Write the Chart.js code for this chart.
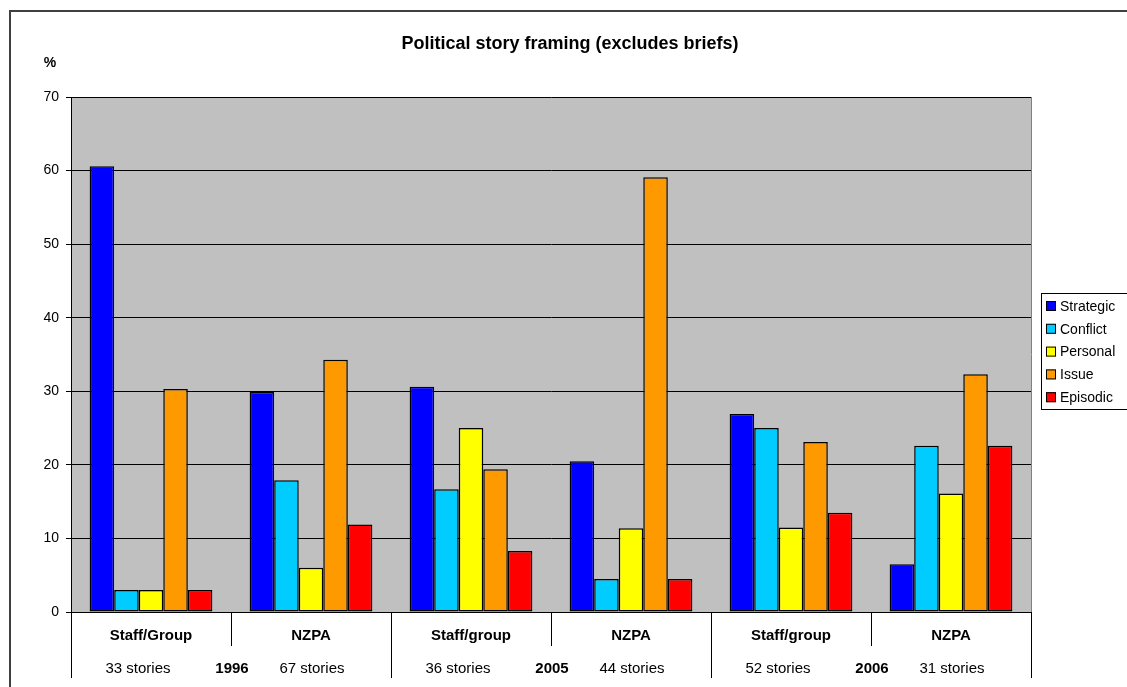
<!DOCTYPE html>
<html>
<head>
<meta charset="utf-8">
<script src="https://cdn.jsdelivr.net/npm/chart.js@4/dist/chart.umd.min.js"></script>
<style>
  html, body { margin: 0; padding: 0; background: #fff; }
  #wrap { width: 1127px; height: 687px; position: relative; }
</style>
</head>
<body>
<div id="wrap"><canvas id="myChart" width="1127" height="687"></canvas></div>
<script>
// story groups along the x axis
const groups = ['Staff/Group', 'NZPA', 'Staff/group', 'NZPA', 'Staff/group', 'NZPA'];
const storyCounts = ['33 stories', '67 stories', '36 stories', '44 stories', '52 stories', '31 stories'];
const years = ['1996', '2005', '2006'];

// framing percentages per group
const strategic = [60.6, 29.9, 30.6, 20.5, 26.9, 6.5];
const conflict  = [3.0, 17.9, 16.7, 4.5, 25.0, 22.6];
const personal  = [3.0, 6.0, 25.0, 11.4, 11.5, 16.1];
const issue     = [30.3, 34.3, 19.4, 59.1, 23.1, 32.3];
const episodic  = [3.0, 11.9, 8.3, 4.5, 13.5, 22.6];

const yTicks = [0, 10, 20, 30, 40, 50, 60, 70];

const FONT = '"Liberation Sans", Arial, sans-serif';

// grey plot background, outer frame, title, "%" label
const backdrop = {
  id: 'backdrop',
  beforeDraw(chart) {
    const ctx = chart.ctx, a = chart.chartArea;
    ctx.save();
    ctx.fillStyle = '#fff';
    ctx.fillRect(0, 0, chart.width, chart.height);
    ctx.fillStyle = '#c0c0c0';
    ctx.fillRect(a.left, a.top, a.right - a.left, a.bottom - a.top);
    // outer frame
    ctx.strokeStyle = '#404040';
    ctx.lineWidth = 2;
    ctx.beginPath();
    ctx.moveTo(10, chart.height + 2);
    ctx.lineTo(10, 11);
    ctx.lineTo(chart.width + 2, 11);
    ctx.stroke();
    // title
    ctx.fillStyle = '#000';
    ctx.font = 'bold 18px ' + FONT;
    ctx.textAlign = 'center';
    ctx.textBaseline = 'middle';
    ctx.fillText('Political story framing (excludes briefs)', 570, 44);
    ctx.font = 'bold 14px ' + FONT;
    ctx.fillText('%', 50, 63);
    ctx.restore();
  },
  afterDatasetsDraw(chart) {
    const ctx = chart.ctx, a = chart.chartArea;
    ctx.save();
    // plot border right side
    ctx.strokeStyle = '#808080';
    ctx.lineWidth = 1;
    ctx.beginPath();
    ctx.moveTo(a.right + 0.5, a.top);
    ctx.lineTo(a.right + 0.5, a.bottom);
    ctx.stroke();
    ctx.restore();
  }
};

// two-row category axis with separators, plus legend box
const categoryAxis = {
  id: 'categoryAxis',
  afterDraw(chart) {
    const ctx = chart.ctx, a = chart.chartArea;
    const x = chart.scales.x;
    const half = (x.getPixelForValue(1) - x.getPixelForValue(0)) / 2;
    ctx.save();
    ctx.strokeStyle = '#000';
    ctx.lineWidth = 1;
    // axis line with left tick
    ctx.beginPath();
    ctx.moveTo(a.left - 5, a.bottom + 0.5);
    ctx.lineTo(a.right + 1, a.bottom + 0.5);
    ctx.stroke();
    for (let i = 0; i <= groups.length; i++) {
      const px = Math.round(x.getPixelForValue(i) - half) + 0.5;
      const tall = i % 2 === 0;
      ctx.beginPath();
      ctx.moveTo(px, a.bottom);
      ctx.lineTo(px, tall ? a.bottom + 66 : a.bottom + 34);
      ctx.stroke();
    }
    ctx.fillStyle = '#000';
    ctx.textBaseline = 'middle';
    ctx.textAlign = 'center';
    groups.forEach((g, i) => {
      ctx.font = 'bold 15px ' + FONT;
      ctx.fillText(g, x.getPixelForValue(i), a.bottom + 24);
      ctx.font = '15px ' + FONT;
      const off = i % 2 === 0 ? -13 : 1;
      ctx.fillText(storyCounts[i], x.getPixelForValue(i) + off, a.bottom + 57);
    });
    ctx.font = 'bold 15px ' + FONT;
    years.forEach((yr, j) => {
      const px = x.getPixelForValue(j * 2) + half;
      ctx.fillText(yr, px + 1, a.bottom + 57);
    });

    // legend
    const lx = 1041, ly = 293, lw = 90, lh = 116;
    ctx.fillStyle = '#fff';
    ctx.fillRect(lx, ly, lw, lh);
    ctx.strokeStyle = '#000';
    ctx.strokeRect(lx + 0.5, ly + 0.5, lw, lh);
    ctx.textAlign = 'left';
    ctx.font = '14px ' + FONT;
    chart.data.datasets.forEach((ds, k) => {
      const cy = ly + 13 + k * 22.8;
      ctx.fillStyle = ds.backgroundColor;
      ctx.fillRect(lx + 5, cy - 5, 10, 10);
      ctx.strokeStyle = '#000';
      ctx.strokeRect(lx + 5.5, cy - 4.5, 9, 9);
      ctx.fillStyle = '#000';
      ctx.fillText(ds.label, lx + 19, cy + 1);
    });
    ctx.restore();
  }
};

function series(label, data, color) {
  return {
    label, data,
    backgroundColor: color,
    borderColor: '#000',
    borderWidth: 1.5,
    borderSkipped: false,
    categoryPercentage: 0.767,
    barPercentage: 1.0
  };
}

const ctx = document.getElementById('myChart').getContext('2d');
const myChart = new Chart(ctx, {
  type: 'bar',
  data: {
    labels: groups,
    datasets: [
      series('Strategic', strategic, '#0000ff'),
      series('Conflict', conflict, '#00ccff'),
      series('Personal', personal, '#ffff00'),
      series('Issue', issue, '#ff9900'),
      series('Episodic', episodic, '#ff0000')
    ]
  },
  options: {
    responsive: false,
    animation: false,
    devicePixelRatio: 1,
    layout: { padding: { top: 97, right: 96, left: 0, bottom: 0 } },
    plugins: {
      legend: { display: false },
      title: { display: false },
      tooltip: { enabled: false }
    },
    scales: {
      x: {
        ticks: { display: false },
        grid: { display: false },
        border: { display: false },
        afterFit(scale) { scale.height = 75; }
      },
      y: {
        min: 0,
        max: 70,
        afterBuildTicks(scale) { scale.ticks = yTicks.map(v => ({ value: v })); },
        ticks: {
          color: '#000',
          font: { family: FONT, size: 14 },
          padding: 7
        },
        grid: {
          color: '#000',
          lineWidth: 1,
          tickLength: 5,
          drawTicks: true
        },
        border: { display: true, color: '#000', width: 1 },
        afterFit(scale) { scale.width = 71; }
      }
    }
  },
  plugins: [backdrop, categoryAxis]
});
</script>
</body>
</html>
